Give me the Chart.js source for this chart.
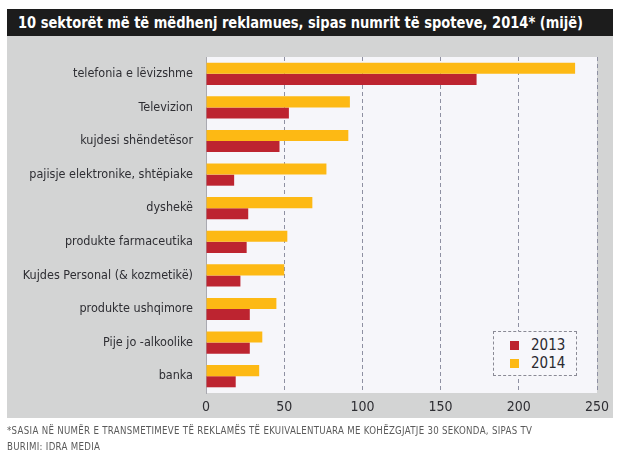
<!DOCTYPE html>
<html>
<head>
<meta charset="utf-8">
<script src="https://cdn.jsdelivr.net/npm/chart.js@4.4.1/dist/chart.umd.min.js"></script>
<style>
  html, body { margin:0; padding:0; background:#ffffff; }
  body { width:619px; height:451px; position:relative; overflow:hidden; }
  #panel { position:absolute; left:7px; top:36px; width:606px; height:382px; background:#d3d4d4; }
  #titlebar { position:absolute; left:7px; top:9px; width:606px; height:27px; background:#1c1c1c; }
  #title { position:absolute; left:18px; top:9px; height:27px; line-height:27px; color:#ffffff;
           font-family:'Liberation Sans Narrow','DejaVu Sans Condensed',sans-serif; font-weight:bold; font-size:16px;
           white-space:nowrap; transform-origin:0 50%; }
  #wrap { position:absolute; left:0; top:0; width:619px; height:451px; }
  #legend { position:absolute; left:493px; top:331px; width:84px; height:45px; border:1px dashed #8a8a95;
            background:#f7f7fb; box-sizing:border-box; padding:4px 0 0 16px;
            font-family:'Liberation Sans Narrow','DejaVu Sans Condensed',sans-serif; font-size:15px; color:#2a2a30; }
  #legend .item { height:18px; line-height:18px; white-space:nowrap; }
  #legend .sw { display:inline-block; width:9px; height:9px; margin-right:12px; vertical-align:0px; }
  .foot { position:absolute; left:7px; color:#5a5a5a; font-family:'Liberation Sans Narrow','DejaVu Sans Condensed',sans-serif;
          font-size:9.6px; white-space:nowrap; letter-spacing:0.3px; }
</style>
</head>
<body>
<div id="panel"></div>
<div id="titlebar"></div>
<div id="title">10 sektorët më të mëdhenj reklamues, sipas numrit të spoteve, 2014* (mijë)</div>
<div id="wrap"><canvas id="c" width="619" height="451"></canvas></div>
<div id="legend"></div>
<div class="foot" style="top:425px;">*SASIA NË NUMËR E TRANSMETIMEVE TË REKLAMËS TË EKUIVALENTUARA ME KOHËZGJATJE 30 SEKONDA, SIPAS TV</div>
<div class="foot" style="top:441px;">BURIMI: IDRA MEDIA</div>
<script>
const categories = ["telefonia e lëvizshme","Televizion","kujdesi shëndetësor","pajisje elektronike, shtëpiake","dyshekë","produkte farmaceutika","Kujdes Personal (& kozmetikë)","produkte ushqimore","Pije jo -alkoolike","banka"];
const values2013 = [173, 53, 47, 18, 27, 26, 22, 28, 28, 19];
const values2014 = [236, 92, 91, 77, 68, 52, 50, 45, 36, 34];
const xTicks = [0, 50, 100, 150, 200, 250];
const seriesLabels = ["2013", "2014"];
const colors = { "2013": "#bd2430", "2014": "#fdb914" };

const FONT = "'Liberation Sans Narrow','DejaVu Sans Condensed',sans-serif";

// fit title into its bar width
const t = document.getElementById('title');
const tw = t.getBoundingClientRect().width;
t.style.transform = 'scaleX(' + (565 / tw) + ')';

const plotBg = {
  id: 'plotBg',
  beforeDraw(chart) {
    const a = chart.chartArea, ctx = chart.ctx;
    ctx.save();
    ctx.fillStyle = '#f6f6fa';
    ctx.fillRect(a.left, a.top, a.right - a.left, a.bottom - a.top);
    ctx.restore();
  }
};

const chart = new Chart(document.getElementById('c'), {
  type: 'bar',
  data: {
    labels: categories,
    datasets: [
      { label: "2014", data: values2014, backgroundColor: colors["2014"], categoryPercentage: 0.66, barPercentage: 1.0, borderWidth: 0 },
      { label: "2013", data: values2013, backgroundColor: colors["2013"], categoryPercentage: 0.66, barPercentage: 1.0, borderWidth: 0 }
    ]
  },
  options: {
    indexAxis: 'y',
    responsive: false,
    animation: false,
    layout: { padding: { top: 57, right: 22, left: 0, bottom: 0 } },
    plugins: { legend: { display: false }, tooltip: { enabled: false }, title: { display: false } },
    scales: {
      x: {
        min: 0, max: 250,
        afterBuildTicks(s) { s.ticks = xTicks.map(v => ({ value: v })); },
        afterFit(s) { s.height = 58; },
        grid: {
          drawTicks: false,
          color: ctx => (ctx.tick && ctx.tick.value === 0) ? 'rgba(0,0,0,0)' : '#8e90a2',
          lineWidth: 1
        },
        border: { display: false, dash: [4, 3] },
        ticks: { padding: 6, color: '#2e2e33', font: { family: FONT, size: 14 } }
      },
      y: {
        afterFit(s) { s.width = 206; },
        grid: { display: false, drawTicks: false },
        border: { display: true, color: '#a9a9b0', width: 1 },
        ticks: { padding: 13, color: '#2e2e33', font: { family: FONT, size: 12.5 } }
      }
    }
  },
  plugins: [plotBg]
});

// legend built from series labels / colors
const leg = document.getElementById('legend');
seriesLabels.forEach(l => {
  const d = document.createElement('div');
  d.className = 'item';
  d.innerHTML = '<span class="sw" style="background:' + colors[l] + '"></span>' + l;
  leg.appendChild(d);
});
</script>
</body>
</html>
